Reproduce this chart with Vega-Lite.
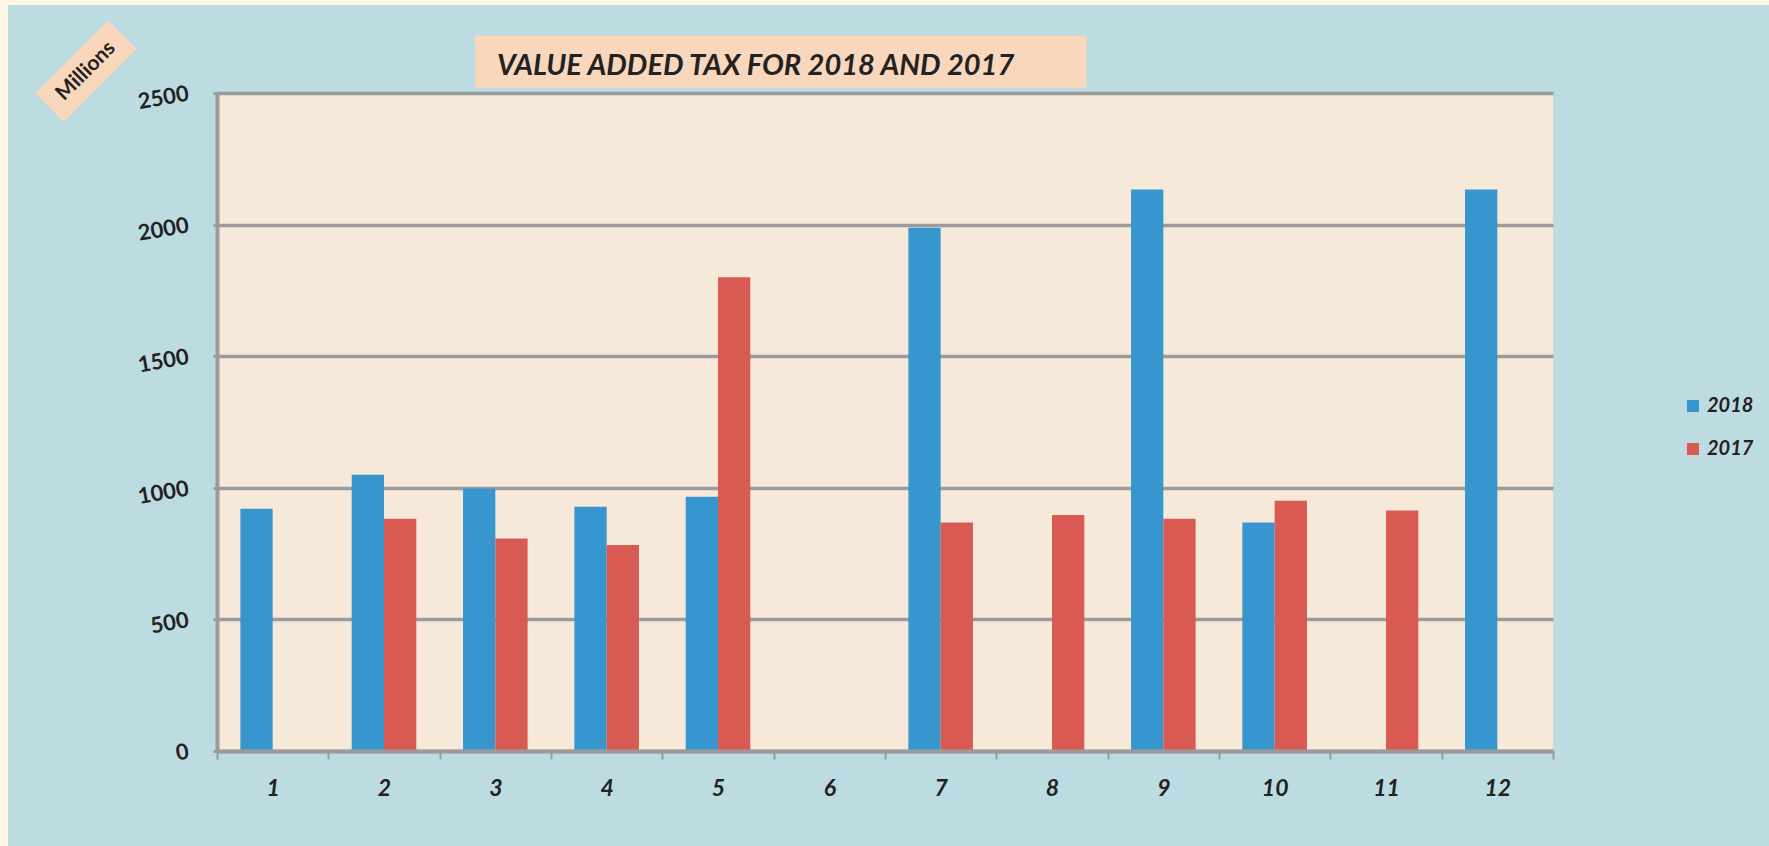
{
  "$schema": "https://vega.github.io/schema/vega-lite/v6.json",
  "autosize": {"type": "none"},
  "width": 1336,
  "height": 658,
  "padding": {"left": 217, "top": 93, "right": 216, "bottom": 95},
  "background": "#bddce1",
  "config": {
    "view": {"fill": "#f6e9da", "stroke": null},
    "font": "Lato"
  },
  "resolve": {"scale": {"x": "independent", "y": "independent"}},
  "layer": [
    {
      "data": {"values": [
        {"month": 1, "year": "2018", "value": 920},
        {"month": 2, "year": "2018", "value": 1050},
        {"month": 2, "year": "2017", "value": 882},
        {"month": 3, "year": "2018", "value": 997},
        {"month": 3, "year": "2017", "value": 807},
        {"month": 4, "year": "2018", "value": 928},
        {"month": 4, "year": "2017", "value": 783},
        {"month": 5, "year": "2018", "value": 966},
        {"month": 5, "year": "2017", "value": 1800},
        {"month": 7, "year": "2018", "value": 1988},
        {"month": 7, "year": "2017", "value": 868},
        {"month": 8, "year": "2017", "value": 897},
        {"month": 9, "year": "2018", "value": 2133},
        {"month": 9, "year": "2017", "value": 882},
        {"month": 10, "year": "2018", "value": 868},
        {"month": 10, "year": "2017", "value": 951},
        {"month": 11, "year": "2017", "value": 914},
        {"month": 12, "year": "2018", "value": 2133}
      ]},
      "mark": {"type": "bar"},
      "encoding": {
        "x": {
          "field": "month", "type": "ordinal",
          "scale": {"domain": [1,2,3,4,5,6,7,8,9,10,11,12], "paddingInner": 0, "paddingOuter": 0},
          "axis": {
            "title": null, "labelAngle": 0, "tickBand": "extent", "zindex": 1,
            "ticks": true, "tickSize": 8, "tickWidth": 2, "tickColor": "#9b9b9b",
            "domainColor": "#9b9b9b", "domainWidth": 4,
            "labelFont": "Lato", "labelFontSize": 23, "labelFontWeight": "bold", "labelFontStyle": "italic",
            "labelColor": "#222222", "labelPadding": 18
          }
        },
        "xOffset": {"field": "year", "type": "nominal", "scale": {"domain": ["2018", "2017"], "paddingInner": 0, "paddingOuter": 0.724}},
        "y": {
          "field": "value", "type": "quantitative",
          "scale": {"domain": [0, 2500], "nice": false},
          "axis": {
            "title": null, "values": [0, 500, 1000, 1500, 2000, 2500], "format": "d",
            "grid": true, "gridColor": "#9b9b9b", "gridWidth": 3.5,
            "domainColor": "#9b9b9b", "domainWidth": 4,
            "ticks": true, "tickSize": 4, "tickWidth": 3, "tickColor": "#9b9b9b",
            "labelFont": "Lato", "labelFontSize": 22, "labelFontWeight": "bold",
            "labelColor": "#222222", "labelAngle": -10, "labelAlign": "right", "labelBaseline": "middle",
            "labelPadding": 25
          }
        },
        "color": {
          "field": "year", "type": "nominal",
          "scale": {"domain": ["2018", "2017"], "range": ["#3796cd", "#d95a53"]},
          "legend": {
            "title": null, "orient": "none", "legendX": 1466, "legendY": 303, "padding": 0,
            "symbolType": "square", "symbolSize": 144, "symbolStrokeWidth": 0,
            "labelFont": "Lato", "labelFontSize": 20, "labelFontWeight": "bold", "labelFontStyle": "italic",
            "labelColor": "#222222", "labelOffset": 4, "rowPadding": 23
          }
        }
      }
    },
    {
      "data": {"values": [{}]},
      "layer": [
        {
          "mark": {"type": "rule", "color": "#fdf6e3", "strokeWidth": 8},
          "encoding": {
            "x": {"datum": -1.913, "type": "quantitative", "scale": {"domain": [0, 12]}, "axis": null},
            "y": {"datum": 3000, "type": "quantitative", "scale": {"domain": [0, 2500], "nice": false}, "axis": null},
            "y2": {"datum": -500}
          }
        },
        {
          "mark": {"type": "rule", "color": "#fdf6e3", "strokeWidth": 5},
          "encoding": {
            "x": {"datum": -2.5, "type": "quantitative", "scale": {"domain": [0, 12]}, "axis": null},
            "x2": {"datum": 14},
            "y": {"datum": 2844, "type": "quantitative", "scale": {"domain": [0, 2500], "nice": false}, "axis": null}
          }
        },
        {
          "mark": {"type": "rect", "color": "#f8d7bc"},
          "encoding": {
            "x": {"datum": 2.317, "type": "quantitative", "scale": {"domain": [0, 12]}, "axis": null},
            "x2": {"datum": 7.81},
            "y": {"datum": 2718, "type": "quantitative", "scale": {"domain": [0, 2500], "nice": false}, "axis": null},
            "y2": {"datum": 2520}
          }
        },
        {
          "mark": {"type": "text", "text": "VALUE ADDED TAX FOR 2018 AND 2017", "align": "left", "baseline": "middle",
                   "font": "Lato", "fontSize": 29, "fontWeight": "bold", "fontStyle": "italic", "color": "#222222"},
          "encoding": {
            "x": {"datum": 2.515, "type": "quantitative", "scale": {"domain": [0, 12]}, "axis": null},
            "y": {"datum": 2604, "type": "quantitative", "scale": {"domain": [0, 2500], "nice": false}, "axis": null}
          }
        },
        {
          "mark": {"type": "point", "shape": "M-1,-0.39L1,-0.39L1,0.39L-1,0.39Z", "size": 10609, "angle": -45,
                   "filled": true, "fill": "#f8d7bc", "opacity": 1, "strokeWidth": 0},
          "encoding": {
            "x": {"datum": -1.177, "type": "quantitative", "scale": {"domain": [0, 12]}, "axis": null},
            "y": {"datum": 2583, "type": "quantitative", "scale": {"domain": [0, 2500], "nice": false}, "axis": null}
          }
        },
        {
          "mark": {"type": "text", "text": "Millions", "align": "center", "baseline": "middle", "angle": -45,
                   "font": "Lato", "fontSize": 21, "fontWeight": "bold", "color": "#222222"},
          "encoding": {
            "x": {"datum": -1.177, "type": "quantitative", "scale": {"domain": [0, 12]}, "axis": null},
            "y": {"datum": 2583, "type": "quantitative", "scale": {"domain": [0, 2500], "nice": false}, "axis": null}
          }
        }
      ]
    }
  ]
}
